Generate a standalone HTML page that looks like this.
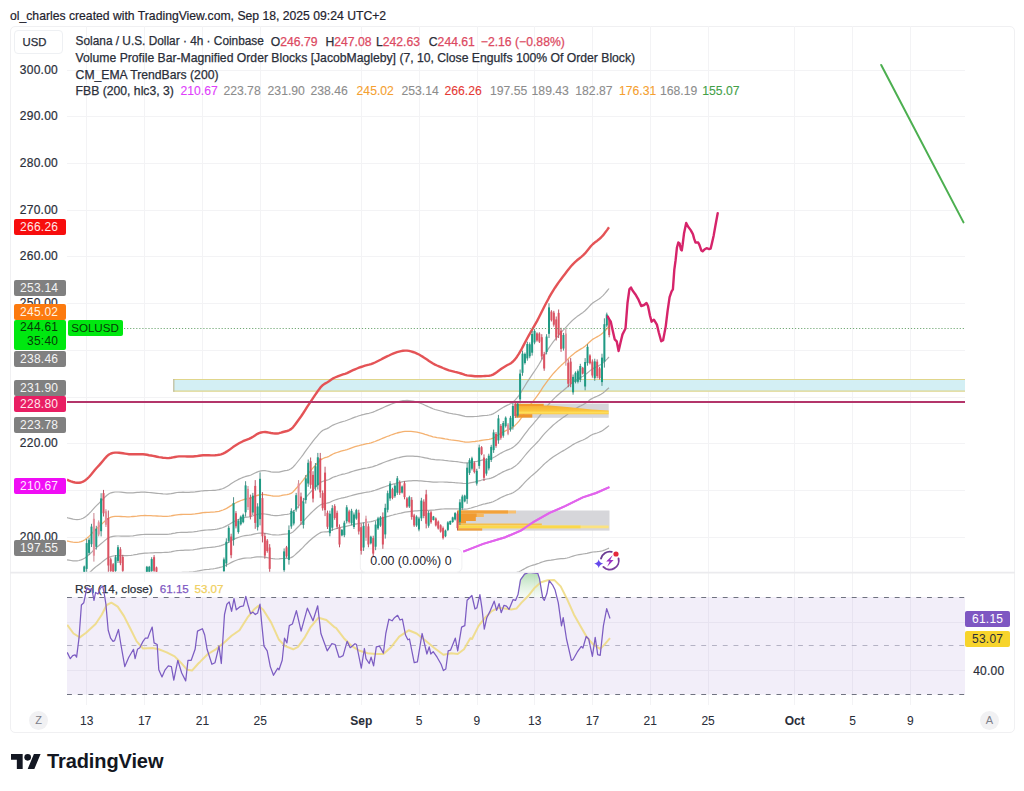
<!DOCTYPE html>
<html><head><meta charset="utf-8">
<style>
html,body{margin:0;padding:0;background:#fff;width:1024px;height:791px;overflow:hidden;}
body{position:relative;font-family:"Liberation Sans",sans-serif;color:#131722;}
.t{position:absolute;white-space:nowrap;line-height:1;z-index:3;}
.frame{position:absolute;z-index:1;left:9.5px;top:25.5px;width:1005px;height:707px;border:1px solid #f0f0f2;border-radius:5px;box-sizing:border-box;}
.lg{position:absolute;z-index:3;white-space:nowrap;font-size:12.2px;line-height:1;color:#2a2e39;-webkit-text-stroke:0.25px currentColor;}
.pl{position:absolute;z-index:3;left:14px;width:52px;height:16px;border-radius:2px;font-size:12px;letter-spacing:0.25px;line-height:16px;text-align:right;box-sizing:border-box;padding-right:7.75px;color:#fff;}
.ax{position:absolute;z-index:3;font-size:12px;line-height:1;color:#2a2e39;white-space:nowrap;-webkit-text-stroke:0.2px currentColor;}
.pr{left:8px;width:50px;text-align:right;letter-spacing:0.25px;margin-right:-0.25px}
svg{position:absolute;left:0;top:0;}
</style></head><body>
<div class="t" style="left:10px;top:9.5px;font-size:12.2px;color:#1e222d;-webkit-text-stroke:0.2px currentColor;">ol_charles created with TradingView.com, Sep 18, 2025 09:24 UTC+2</div>
<div class="frame"></div>
<svg style="z-index:2" width="1024" height="791" viewBox="0 0 1024 791">
<line x1="67" y1="537.5" x2="965" y2="537.5" stroke="#f3f3f5"/>
<line x1="67" y1="490.5" x2="965" y2="490.5" stroke="#f3f3f5"/>
<line x1="67" y1="443.5" x2="965" y2="443.5" stroke="#f3f3f5"/>
<line x1="67" y1="397.5" x2="965" y2="397.5" stroke="#f3f3f5"/>
<line x1="67" y1="350.5" x2="965" y2="350.5" stroke="#f3f3f5"/>
<line x1="67" y1="303.5" x2="965" y2="303.5" stroke="#f3f3f5"/>
<line x1="67" y1="256.5" x2="965" y2="256.5" stroke="#f3f3f5"/>
<line x1="67" y1="210.5" x2="965" y2="210.5" stroke="#f3f3f5"/>
<line x1="67" y1="163.5" x2="965" y2="163.5" stroke="#f3f3f5"/>
<line x1="67" y1="116.5" x2="965" y2="116.5" stroke="#f3f3f5"/>
<line x1="67" y1="70.5" x2="965" y2="70.5" stroke="#f3f3f5"/>
<line x1="86.5" y1="26" x2="86.5" y2="582" stroke="#f3f3f5"/>
<line x1="86.5" y1="597" x2="86.5" y2="705" stroke="#f3f3f5"/>
<line x1="144.5" y1="26" x2="144.5" y2="582" stroke="#f3f3f5"/>
<line x1="144.5" y1="597" x2="144.5" y2="705" stroke="#f3f3f5"/>
<line x1="202.5" y1="26" x2="202.5" y2="582" stroke="#f3f3f5"/>
<line x1="202.5" y1="597" x2="202.5" y2="705" stroke="#f3f3f5"/>
<line x1="260.5" y1="26" x2="260.5" y2="705" stroke="#f3f3f5"/>
<line x1="361.5" y1="26" x2="361.5" y2="705" stroke="#f3f3f5"/>
<line x1="419.5" y1="26" x2="419.5" y2="705" stroke="#f3f3f5"/>
<line x1="477.5" y1="26" x2="477.5" y2="705" stroke="#f3f3f5"/>
<line x1="534.5" y1="26" x2="534.5" y2="705" stroke="#f3f3f5"/>
<line x1="592.5" y1="26" x2="592.5" y2="705" stroke="#f3f3f5"/>
<line x1="650.5" y1="26" x2="650.5" y2="705" stroke="#f3f3f5"/>
<line x1="708.5" y1="26" x2="708.5" y2="705" stroke="#f3f3f5"/>
<line x1="794.5" y1="26" x2="794.5" y2="705" stroke="#f3f3f5"/>
<line x1="852.5" y1="26" x2="852.5" y2="705" stroke="#f3f3f5"/>
<line x1="910.5" y1="26" x2="910.5" y2="705" stroke="#f3f3f5"/>
<line x1="67" y1="670.5" x2="965" y2="670.5" stroke="#f3f3f5"/>
<line x1="67" y1="622.5" x2="965" y2="622.5" stroke="#f3f3f5"/>
<line x1="10" y1="572.6" x2="1015" y2="572.6" stroke="#ebebee" stroke-width="1.6"/>
<rect x="173.8" y="379.5" width="791.2" height="11.8" fill="#d3eff4"/>
<line x1="173.3" y1="379.5" x2="965" y2="379.5" stroke="#e0d68c" stroke-width="1.2"/>
<line x1="173.3" y1="391.2" x2="965" y2="391.2" stroke="#e0d68c" stroke-width="1.2"/>
<line x1="173.8" y1="379" x2="173.8" y2="391.8" stroke="#bdbb98" stroke-width="1.2"/>
<rect x="515.7" y="403.6" width="93" height="14.2" fill="#d6d6da"/>
<rect x="457.3" y="510.5" width="152.2" height="20.1" fill="#d6d6da"/>
<clipPath id="mainclip"><rect x="67" y="26" width="898" height="545.8"/></clipPath>
<g clip-path="url(#mainclip)" fill="none" stroke-linejoin="round">
<polyline points="67.0,677.8 69.0,677.4 71.0,677.0 73.0,676.6 75.0,676.1 77.0,675.5 79.0,674.8 81.0,674.0 83.0,673.0 85.0,671.8 87.0,670.5 89.0,669.1 91.0,667.8 93.0,666.4 95.0,665.2 97.0,664.3 99.0,663.5 101.0,662.7 103.0,661.9 105.0,661.2 107.0,660.5 109.0,659.9 111.0,659.5 113.0,659.2 115.0,659.0 117.0,658.8 119.0,658.6 121.0,658.3 123.0,658.0 125.0,657.6 127.0,657.2 129.0,656.7 131.0,656.2 133.0,655.6 135.0,655.0 137.0,654.4 139.0,653.7 141.0,653.1 143.0,652.5 145.0,651.9 147.0,651.4 149.0,650.8 151.0,650.2 153.0,649.7 155.0,649.1 157.0,648.6 159.0,648.2 161.0,647.7 163.0,647.3 165.0,646.9 167.0,646.5 169.0,646.2 171.0,645.8 173.0,645.4 175.0,645.0 177.0,644.7 179.0,644.5 181.0,644.3 183.0,644.1 185.0,644.0 187.0,643.8 189.0,643.6 191.0,643.4 193.0,643.1 195.0,642.7 197.0,642.3 199.0,641.8 201.0,641.3 203.0,640.8 205.0,640.4 207.0,640.0 209.0,639.6 211.0,639.3 213.0,638.9 215.0,638.4 217.0,638.0 219.0,637.4 221.0,636.9 223.0,636.2 225.0,635.5 227.0,634.7 229.0,633.9 231.0,633.1 233.0,632.4 235.0,631.8 237.0,631.3 239.0,631.0 241.0,630.8 243.0,630.8 245.0,630.9 247.0,631.1 249.0,631.5 251.0,631.9 253.0,632.2 255.0,632.5 257.0,632.8 259.0,633.2 261.0,633.6 263.0,634.1 265.0,634.6 267.0,635.1 269.0,635.5 271.0,635.9 273.0,636.2 275.0,636.4 277.0,636.5 279.0,636.6 281.0,636.6 283.0,636.7 285.0,636.8 287.0,637.1 289.0,637.2 291.0,637.0 293.0,636.4 295.0,635.3 297.0,634.0 299.0,632.6 301.0,631.3 303.0,629.9 305.0,628.5 307.0,627.2 309.0,626.0 311.0,625.0 313.0,624.1 315.0,623.3 317.0,622.8 319.0,622.5 321.0,622.4 323.0,622.9 325.0,623.5 327.0,624.0 329.0,624.1 331.0,623.6 333.0,623.0 335.0,622.5 337.0,622.1 339.0,621.7 341.0,621.4 343.0,621.1 345.0,620.9 347.0,620.7 349.0,620.5 351.0,620.2 353.0,620.0 355.0,619.8 357.0,619.7 359.0,619.6 361.0,619.5 363.0,619.4 365.0,619.4 367.0,619.3 369.0,619.1 371.0,618.9 373.0,618.6 375.0,618.1 377.0,617.7 379.0,617.2 381.0,616.7 383.0,616.3 385.0,615.9 387.0,615.6 389.0,615.3 391.0,614.9 393.0,614.6 395.0,614.3 397.0,614.0 399.0,613.6 401.0,613.2 403.0,612.7 405.0,612.1 407.0,611.5 409.0,610.9 411.0,610.2 413.0,609.5 415.0,608.7 417.0,607.9 419.0,607.0 421.0,606.2 423.0,605.3 425.0,604.4 427.0,603.5 429.0,602.6 431.0,601.6 433.0,600.7 435.0,599.7 437.0,598.7 439.0,597.7 441.0,596.8 443.0,596.1 445.0,595.4 447.0,594.8 449.0,594.3 451.0,594.0 453.0,593.7 455.0,593.4 457.0,593.2 459.0,593.1 461.0,592.9 463.0,592.6 465.0,592.1 467.0,591.5 469.0,590.6 471.0,589.6 473.0,588.6 475.0,587.5 477.0,586.5 479.0,585.4 481.0,584.4 483.0,583.4 485.0,582.7 487.0,582.1 489.0,581.5 491.0,580.9 493.0,580.2 495.0,579.4 497.0,578.5 499.0,577.7 501.0,576.9 503.0,576.1 505.0,575.5 507.0,575.0 509.0,574.6 511.0,574.2 513.0,573.7 515.0,573.1 517.0,572.4 519.0,571.7 521.0,570.8 523.0,569.6 525.0,568.5 527.0,567.4 529.0,566.5 531.0,565.8 533.0,565.1 535.0,564.6 537.0,563.9 539.0,563.2 541.0,562.4 543.0,561.7 545.0,561.1 547.0,560.7 549.0,560.4 551.0,560.2 553.0,559.8 555.0,559.5 557.0,559.2 559.0,558.9 561.0,558.7 563.0,558.6 565.0,558.4 567.0,558.0 569.0,557.5 571.0,556.8 573.0,556.1 575.0,555.5 577.0,555.0 579.0,554.6 581.0,554.3 583.0,554.0 585.0,553.7 587.0,553.3 589.0,552.8 591.0,552.3 593.0,552.0 595.0,551.8 597.0,551.7 599.0,551.5 601.0,551.2 603.0,550.6 605.0,549.9 607.0,549.0 609.0,548.1" stroke="#a4a4a4" stroke-width="1.2" opacity="0.9"/>
<polyline points="67.0,602.2 69.0,602.3 71.0,602.3 73.0,602.3 75.0,602.2 77.0,601.9 79.0,601.5 81.0,600.8 83.0,600.0 85.0,598.8 87.0,597.4 89.0,595.8 91.0,594.0 93.0,592.3 95.0,590.6 97.0,589.1 99.0,587.8 101.0,586.5 103.0,585.1 105.0,583.7 107.0,582.5 109.0,581.5 111.0,580.8 113.0,580.4 115.0,580.2 117.0,580.0 119.0,580.0 121.0,579.9 123.0,579.8 125.0,579.7 127.0,579.6 129.0,579.4 131.0,579.1 133.0,578.8 135.0,578.4 137.0,577.9 139.0,577.5 141.0,577.1 143.0,576.8 145.0,576.5 147.0,576.3 149.0,576.1 151.0,575.9 153.0,575.7 155.0,575.5 157.0,575.3 159.0,575.2 161.0,575.0 163.0,574.9 165.0,574.7 167.0,574.6 169.0,574.3 171.0,574.0 173.0,573.6 175.0,573.2 177.0,572.9 179.0,572.7 181.0,572.5 183.0,572.4 185.0,572.4 187.0,572.3 189.0,572.2 191.0,572.0 193.0,571.8 195.0,571.5 197.0,571.2 199.0,570.8 201.0,570.4 203.0,570.0 205.0,569.7 207.0,569.5 209.0,569.3 211.0,569.0 213.0,568.8 215.0,568.5 217.0,568.1 219.0,567.7 221.0,567.2 223.0,566.5 225.0,565.7 227.0,564.7 229.0,563.7 231.0,562.6 233.0,561.6 235.0,560.8 237.0,560.0 239.0,559.3 241.0,558.8 243.0,558.4 245.0,558.1 247.0,558.0 249.0,558.0 251.0,557.8 253.0,557.5 255.0,557.2 257.0,556.9 259.0,556.8 261.0,556.8 263.0,557.0 265.0,557.2 267.0,557.6 269.0,558.0 271.0,558.4 273.0,558.7 275.0,558.9 277.0,559.0 279.0,558.9 281.0,558.7 283.0,558.5 285.0,558.4 287.0,558.4 289.0,558.2 291.0,557.6 293.0,556.6 295.0,554.9 297.0,553.0 299.0,551.2 301.0,549.3 303.0,547.3 305.0,545.1 307.0,543.2 309.0,541.3 311.0,539.5 313.0,537.8 315.0,536.2 317.0,534.8 319.0,533.5 321.0,532.4 323.0,532.0 325.0,531.9 327.0,531.8 329.0,531.3 331.0,530.5 333.0,529.6 335.0,529.0 337.0,528.4 339.0,527.8 341.0,527.3 343.0,526.9 345.0,526.6 347.0,526.1 349.0,525.6 351.0,525.1 353.0,524.6 355.0,524.2 357.0,523.8 359.0,523.4 361.0,523.1 363.0,522.8 365.0,522.5 367.0,522.2 369.0,522.0 371.0,521.6 373.0,521.1 375.0,520.5 377.0,519.9 379.0,519.2 381.0,518.5 383.0,517.8 385.0,517.2 387.0,516.6 389.0,516.1 391.0,515.5 393.0,515.0 395.0,514.4 397.0,514.0 399.0,513.5 401.0,513.1 403.0,512.6 405.0,512.2 407.0,511.9 409.0,511.6 411.0,511.3 413.0,511.1 415.0,510.9 417.0,510.8 419.0,510.6 421.0,510.5 423.0,510.4 425.0,510.4 427.0,510.3 429.0,510.3 431.0,510.2 433.0,510.1 435.0,509.9 437.0,509.6 439.0,509.3 441.0,509.1 443.0,509.0 445.0,508.9 447.0,508.8 449.0,508.8 451.0,508.8 453.0,508.8 455.0,508.8 457.0,508.9 459.0,509.0 461.0,509.1 463.0,509.2 465.0,509.2 467.0,509.0 469.0,508.5 471.0,508.0 473.0,507.4 475.0,506.8 477.0,506.2 479.0,505.5 481.0,504.9 483.0,504.2 485.0,503.8 487.0,503.3 489.0,502.9 491.0,502.4 493.0,501.7 495.0,500.7 497.0,499.7 499.0,498.6 501.0,497.5 503.0,496.6 505.0,495.7 507.0,494.9 509.0,494.3 511.0,493.6 513.0,492.7 515.0,491.5 517.0,490.1 519.0,488.5 521.0,486.5 523.0,484.4 525.0,482.2 527.0,480.1 529.0,478.2 531.0,476.4 533.0,474.7 535.0,473.0 537.0,471.2 539.0,469.3 541.0,467.3 543.0,465.3 545.0,463.4 547.0,461.7 549.0,460.1 551.0,458.6 553.0,457.1 555.0,455.7 557.0,454.4 559.0,453.2 561.0,452.0 563.0,450.9 565.0,449.8 567.0,448.5 569.0,447.2 571.0,445.9 573.0,444.6 575.0,443.5 577.0,442.5 579.0,441.6 581.0,440.8 583.0,440.0 585.0,439.0 587.0,437.9 589.0,436.6 591.0,435.3 593.0,434.3 595.0,433.6 597.0,433.0 599.0,432.3 601.0,431.4 603.0,430.2 605.0,428.8 607.0,427.2 609.0,425.6" stroke="#a4a4a4" stroke-width="1.2" opacity="0.9"/>
<polyline points="67.0,578.8 69.0,579.0 71.0,579.2 73.0,579.3 75.0,579.3 77.0,579.2 79.0,578.8 81.0,578.2 83.0,577.4 85.0,576.2 87.0,574.7 89.0,573.1 91.0,571.2 93.0,569.3 95.0,567.5 97.0,565.9 99.0,564.4 101.0,562.9 103.0,561.3 105.0,559.7 107.0,558.3 109.0,557.2 111.0,556.5 113.0,556.0 115.0,555.8 117.0,555.7 119.0,555.7 121.0,555.7 123.0,555.7 125.0,555.6 127.0,555.6 129.0,555.5 131.0,555.3 133.0,555.0 135.0,554.6 137.0,554.3 139.0,553.9 141.0,553.6 143.0,553.4 145.0,553.2 147.0,553.1 149.0,553.0 151.0,552.9 153.0,552.8 155.0,552.7 157.0,552.7 159.0,552.6 161.0,552.6 163.0,552.5 165.0,552.4 167.0,552.3 169.0,552.1 171.0,551.8 173.0,551.4 175.0,551.0 177.0,550.7 179.0,550.5 181.0,550.3 183.0,550.3 185.0,550.2 187.0,550.2 189.0,550.1 191.0,550.0 193.0,549.8 195.0,549.5 197.0,549.2 199.0,548.8 201.0,548.4 203.0,548.1 205.0,547.8 207.0,547.7 209.0,547.5 211.0,547.3 213.0,547.1 215.0,546.9 217.0,546.5 219.0,546.1 221.0,545.6 223.0,544.9 225.0,544.1 227.0,543.1 229.0,542.0 231.0,540.9 233.0,539.8 235.0,538.8 237.0,537.9 239.0,537.2 241.0,536.5 243.0,536.0 245.0,535.6 247.0,535.4 249.0,535.2 251.0,534.9 253.0,534.4 255.0,533.9 257.0,533.5 259.0,533.2 261.0,533.0 263.0,533.1 265.0,533.3 267.0,533.7 269.0,534.1 271.0,534.5 273.0,534.8 275.0,534.9 277.0,535.0 279.0,534.9 281.0,534.7 283.0,534.3 285.0,534.1 287.0,534.0 289.0,533.7 291.0,533.1 293.0,531.9 295.0,530.0 297.0,528.0 299.0,526.0 301.0,523.9 303.0,521.7 305.0,519.4 307.0,517.2 309.0,515.1 311.0,513.0 313.0,511.1 315.0,509.2 317.0,507.5 319.0,505.9 321.0,504.6 323.0,503.9 325.0,503.5 327.0,503.2 329.0,502.7 331.0,501.7 333.0,500.7 335.0,500.0 337.0,499.4 339.0,498.8 341.0,498.2 343.0,497.8 345.0,497.4 347.0,496.9 349.0,496.3 351.0,495.7 353.0,495.1 355.0,494.6 357.0,494.1 359.0,493.7 361.0,493.3 363.0,492.9 365.0,492.5 367.0,492.2 369.0,491.9 371.0,491.5 373.0,490.9 375.0,490.3 377.0,489.6 379.0,488.9 381.0,488.1 383.0,487.4 385.0,486.7 387.0,486.0 389.0,485.4 391.0,484.7 393.0,484.1 395.0,483.5 397.0,483.0 399.0,482.6 401.0,482.1 403.0,481.7 405.0,481.3 407.0,481.1 409.0,480.9 411.0,480.8 413.0,480.7 415.0,480.7 417.0,480.7 419.0,480.8 421.0,480.9 423.0,481.1 425.0,481.3 427.0,481.5 429.0,481.7 431.0,481.9 433.0,482.1 435.0,482.1 437.0,482.1 439.0,482.0 441.0,482.0 443.0,482.0 445.0,482.1 447.0,482.2 449.0,482.4 451.0,482.4 453.0,482.5 455.0,482.7 457.0,482.8 459.0,483.0 461.0,483.2 463.0,483.4 465.0,483.5 467.0,483.4 469.0,483.1 471.0,482.7 473.0,482.3 475.0,481.9 477.0,481.4 479.0,480.8 481.0,480.3 483.0,479.7 485.0,479.4 487.0,479.0 489.0,478.6 491.0,478.1 493.0,477.4 495.0,476.4 497.0,475.3 499.0,474.1 501.0,473.0 503.0,471.9 505.0,471.0 507.0,470.1 509.0,469.4 511.0,468.7 513.0,467.6 515.0,466.2 517.0,464.6 519.0,462.7 521.0,460.5 523.0,458.0 525.0,455.5 527.0,453.1 529.0,450.8 531.0,448.7 533.0,446.7 535.0,444.6 537.0,442.5 539.0,440.3 541.0,437.9 543.0,435.4 545.0,433.2 547.0,431.1 549.0,429.1 551.0,427.2 553.0,425.3 555.0,423.6 557.0,422.0 559.0,420.4 561.0,418.9 563.0,417.6 565.0,416.2 567.0,414.7 569.0,413.1 571.0,411.6 573.0,410.1 575.0,408.8 577.0,407.7 579.0,406.6 581.0,405.7 583.0,404.7 585.0,403.5 587.0,402.2 589.0,400.6 591.0,399.1 593.0,398.0 595.0,397.1 597.0,396.3 599.0,395.4 601.0,394.3 603.0,393.0 605.0,391.4 607.0,389.5 609.0,387.7" stroke="#a4a4a4" stroke-width="1.2" opacity="0.9"/>
<polyline points="67.0,559.9 69.0,560.2 71.0,560.5 73.0,560.8 75.0,560.9 77.0,560.8 79.0,560.5 81.0,559.9 83.0,559.1 85.0,557.9 87.0,556.4 89.0,554.7 91.0,552.8 93.0,550.8 95.0,548.9 97.0,547.1 99.0,545.5 101.0,543.8 103.0,542.1 105.0,540.4 107.0,538.8 109.0,537.6 111.0,536.8 113.0,536.3 115.0,536.1 117.0,536.0 119.0,536.0 121.0,536.1 123.0,536.1 125.0,536.2 127.0,536.2 129.0,536.1 131.0,536.0 133.0,535.8 135.0,535.5 137.0,535.2 139.0,534.9 141.0,534.7 143.0,534.5 145.0,534.4 147.0,534.3 149.0,534.3 151.0,534.3 153.0,534.3 155.0,534.3 157.0,534.3 159.0,534.4 161.0,534.4 163.0,534.4 165.0,534.4 167.0,534.3 169.0,534.1 171.0,533.8 173.0,533.4 175.0,533.1 177.0,532.7 179.0,532.5 181.0,532.4 183.0,532.3 185.0,532.3 187.0,532.3 189.0,532.2 191.0,532.1 193.0,532.0 195.0,531.7 197.0,531.4 199.0,531.0 201.0,530.7 203.0,530.4 205.0,530.2 207.0,530.0 209.0,529.9 211.0,529.8 213.0,529.6 215.0,529.4 217.0,529.1 219.0,528.7 221.0,528.2 223.0,527.5 225.0,526.6 227.0,525.6 229.0,524.4 231.0,523.2 233.0,522.1 235.0,521.0 237.0,520.1 239.0,519.2 241.0,518.5 243.0,517.9 245.0,517.4 247.0,517.1 249.0,516.8 251.0,516.4 253.0,515.8 255.0,515.1 257.0,514.5 259.0,514.1 261.0,513.8 263.0,513.8 265.0,514.0 267.0,514.3 269.0,514.7 271.0,515.1 273.0,515.4 275.0,515.6 277.0,515.6 279.0,515.5 281.0,515.2 283.0,514.8 285.0,514.5 287.0,514.4 289.0,514.0 291.0,513.2 293.0,511.9 295.0,509.9 297.0,507.8 299.0,505.6 301.0,503.4 303.0,501.1 305.0,498.5 307.0,496.1 309.0,493.9 311.0,491.7 313.0,489.5 315.0,487.5 317.0,485.5 319.0,483.7 321.0,482.1 323.0,481.2 325.0,480.6 327.0,480.2 329.0,479.5 331.0,478.4 333.0,477.3 335.0,476.6 337.0,476.0 339.0,475.3 341.0,474.7 343.0,474.2 345.0,473.8 347.0,473.2 349.0,472.6 351.0,471.9 353.0,471.2 355.0,470.6 357.0,470.1 359.0,469.6 361.0,469.2 363.0,468.7 365.0,468.3 367.0,468.0 369.0,467.6 371.0,467.2 373.0,466.6 375.0,465.9 377.0,465.2 379.0,464.4 381.0,463.6 383.0,462.8 385.0,462.0 387.0,461.3 389.0,460.6 391.0,459.9 393.0,459.2 395.0,458.6 397.0,458.0 399.0,457.6 401.0,457.1 403.0,456.7 405.0,456.4 407.0,456.2 409.0,456.1 411.0,456.1 413.0,456.1 415.0,456.3 417.0,456.4 419.0,456.7 421.0,457.0 423.0,457.4 425.0,457.8 427.0,458.2 429.0,458.7 431.0,459.1 433.0,459.4 435.0,459.7 437.0,459.8 439.0,459.9 441.0,460.0 443.0,460.2 445.0,460.5 447.0,460.7 449.0,461.0 451.0,461.1 453.0,461.3 455.0,461.5 457.0,461.7 459.0,462.0 461.0,462.3 463.0,462.6 465.0,462.8 467.0,462.8 469.0,462.6 471.0,462.3 473.0,462.0 475.0,461.7 477.0,461.3 479.0,460.8 481.0,460.4 483.0,459.9 485.0,459.6 487.0,459.3 489.0,459.0 491.0,458.5 493.0,457.8 495.0,456.8 497.0,455.6 499.0,454.3 501.0,453.1 503.0,452.0 505.0,451.0 507.0,450.1 509.0,449.4 511.0,448.5 513.0,447.4 515.0,445.8 517.0,444.0 519.0,441.9 521.0,439.4 523.0,436.7 525.0,433.9 527.0,431.3 529.0,428.7 531.0,426.4 533.0,424.1 535.0,421.7 537.0,419.4 539.0,416.8 541.0,414.1 543.0,411.3 545.0,408.8 547.0,406.4 549.0,404.0 551.0,401.8 553.0,399.6 555.0,397.6 557.0,395.8 559.0,394.0 561.0,392.3 563.0,390.7 565.0,389.0 567.0,387.3 569.0,385.5 571.0,383.8 573.0,382.3 575.0,380.8 577.0,379.5 579.0,378.4 581.0,377.3 583.0,376.2 585.0,374.9 587.0,373.3 589.0,371.6 591.0,369.9 593.0,368.6 595.0,367.5 597.0,366.6 599.0,365.6 601.0,364.4 603.0,362.9 605.0,361.1 607.0,359.1 609.0,357.0" stroke="#a4a4a4" stroke-width="1.2" opacity="0.9"/>
<polyline points="67.0,541.0 69.0,541.4 71.0,541.8 73.0,542.2 75.0,542.4 77.0,542.4 79.0,542.2 81.0,541.7 83.0,540.8 85.0,539.7 87.0,538.1 89.0,536.4 91.0,534.4 93.0,532.3 95.0,530.2 97.0,528.3 99.0,526.6 101.0,524.8 103.0,522.9 105.0,521.0 107.0,519.3 109.0,518.0 111.0,517.2 113.0,516.6 115.0,516.4 117.0,516.3 119.0,516.4 121.0,516.5 123.0,516.6 125.0,516.7 127.0,516.8 129.0,516.8 131.0,516.7 133.0,516.5 135.0,516.3 137.0,516.1 139.0,515.8 141.0,515.7 143.0,515.6 145.0,515.5 147.0,515.6 149.0,515.6 151.0,515.7 153.0,515.8 155.0,515.9 157.0,516.0 159.0,516.1 161.0,516.2 163.0,516.3 165.0,516.3 167.0,516.3 169.0,516.2 171.0,515.9 173.0,515.5 175.0,515.1 177.0,514.8 179.0,514.6 181.0,514.5 183.0,514.4 185.0,514.4 187.0,514.4 189.0,514.4 191.0,514.3 193.0,514.1 195.0,513.9 197.0,513.6 199.0,513.3 201.0,513.0 203.0,512.7 205.0,512.5 207.0,512.4 209.0,512.3 211.0,512.2 213.0,512.1 215.0,511.9 217.0,511.6 219.0,511.3 221.0,510.7 223.0,510.0 225.0,509.2 227.0,508.1 229.0,506.9 231.0,505.6 233.0,504.4 235.0,503.3 237.0,502.2 239.0,501.3 241.0,500.5 243.0,499.8 245.0,499.2 247.0,498.8 249.0,498.4 251.0,497.9 253.0,497.1 255.0,496.3 257.0,495.5 259.0,495.0 261.0,494.6 263.0,494.5 265.0,494.6 267.0,495.0 269.0,495.3 271.0,495.7 273.0,496.0 275.0,496.2 277.0,496.2 279.0,496.1 281.0,495.7 283.0,495.2 285.0,494.9 287.0,494.7 289.0,494.2 291.0,493.4 293.0,491.9 295.0,489.8 297.0,487.5 299.0,485.2 301.0,482.9 303.0,480.4 305.0,477.7 307.0,475.1 309.0,472.7 311.0,470.3 313.0,467.9 315.0,465.7 317.0,463.5 319.0,461.4 321.0,459.6 323.0,458.5 325.0,457.7 327.0,457.1 329.0,456.3 331.0,455.1 333.0,454.0 335.0,453.2 337.0,452.5 339.0,451.8 341.0,451.2 343.0,450.7 345.0,450.2 347.0,449.6 349.0,448.9 351.0,448.1 353.0,447.4 355.0,446.7 357.0,446.1 359.0,445.6 361.0,445.0 363.0,444.6 365.0,444.1 367.0,443.7 369.0,443.3 371.0,442.8 373.0,442.2 375.0,441.5 377.0,440.7 379.0,439.9 381.0,439.0 383.0,438.1 385.0,437.3 387.0,436.5 389.0,435.8 391.0,435.0 393.0,434.3 395.0,433.6 397.0,433.0 399.0,432.5 401.0,432.1 403.0,431.7 405.0,431.4 407.0,431.3 409.0,431.3 411.0,431.4 413.0,431.6 415.0,431.8 417.0,432.2 419.0,432.6 421.0,433.1 423.0,433.6 425.0,434.3 427.0,434.9 429.0,435.6 431.0,436.2 433.0,436.8 435.0,437.2 437.0,437.6 439.0,437.8 441.0,438.1 443.0,438.5 445.0,438.9 447.0,439.2 449.0,439.6 451.0,439.9 453.0,440.1 455.0,440.3 457.0,440.6 459.0,440.9 461.0,441.3 463.0,441.7 465.0,442.0 467.0,442.2 469.0,442.1 471.0,441.9 473.0,441.7 475.0,441.5 477.0,441.2 479.0,440.9 481.0,440.5 483.0,440.2 485.0,439.9 487.0,439.6 489.0,439.3 491.0,438.9 493.0,438.1 495.0,437.1 497.0,435.8 499.0,434.5 501.0,433.3 503.0,432.1 505.0,431.1 507.0,430.1 509.0,429.3 511.0,428.4 513.0,427.1 515.0,425.4 517.0,423.4 519.0,421.1 521.0,418.3 523.0,415.4 525.0,412.4 527.0,409.4 529.0,406.6 531.0,404.0 533.0,401.4 535.0,398.8 537.0,396.2 539.0,393.3 541.0,390.3 543.0,387.2 545.0,384.3 547.0,381.6 549.0,378.9 551.0,376.4 553.0,373.9 555.0,371.7 557.0,369.6 559.0,367.5 561.0,365.6 563.0,363.8 565.0,361.9 567.0,359.9 569.0,358.0 571.0,356.1 573.0,354.4 575.0,352.8 577.0,351.4 579.0,350.1 581.0,348.9 583.0,347.7 585.0,346.2 587.0,344.5 589.0,342.5 591.0,340.7 593.0,339.1 595.0,338.0 597.0,336.9 599.0,335.8 601.0,334.5 603.0,332.8 605.0,330.8 607.0,328.7 609.0,326.4" stroke="#f3a860" stroke-width="1.3" opacity="0.9"/>
<polyline points="67.0,517.6 69.0,518.2 71.0,518.7 73.0,519.2 75.0,519.5 77.0,519.6 79.0,519.5 81.0,519.0 83.0,518.2 85.0,517.1 87.0,515.5 89.0,513.7 91.0,511.6 93.0,509.3 95.0,507.1 97.0,505.1 99.0,503.2 101.0,501.2 103.0,499.1 105.0,497.0 107.0,495.2 109.0,493.8 111.0,492.8 113.0,492.3 115.0,492.0 117.0,492.0 119.0,492.0 121.0,492.2 123.0,492.4 125.0,492.6 127.0,492.8 129.0,492.9 131.0,492.9 133.0,492.8 135.0,492.6 137.0,492.4 139.0,492.3 141.0,492.2 143.0,492.2 145.0,492.2 147.0,492.3 149.0,492.5 151.0,492.7 153.0,492.9 155.0,493.1 157.0,493.3 159.0,493.5 161.0,493.7 163.0,493.9 165.0,494.0 167.0,494.1 169.0,493.9 171.0,493.7 173.0,493.3 175.0,492.9 177.0,492.5 179.0,492.4 181.0,492.3 183.0,492.2 185.0,492.3 187.0,492.3 189.0,492.3 191.0,492.2 193.0,492.1 195.0,491.9 197.0,491.6 199.0,491.3 201.0,491.0 203.0,490.8 205.0,490.6 207.0,490.6 209.0,490.5 211.0,490.5 213.0,490.4 215.0,490.3 217.0,490.0 219.0,489.7 221.0,489.2 223.0,488.5 225.0,487.6 227.0,486.4 229.0,485.2 231.0,483.8 233.0,482.5 235.0,481.3 237.0,480.2 239.0,479.1 241.0,478.2 243.0,477.4 245.0,476.7 247.0,476.2 249.0,475.7 251.0,475.0 253.0,474.0 255.0,473.0 257.0,472.1 259.0,471.3 261.0,470.9 263.0,470.7 265.0,470.7 267.0,471.0 269.0,471.4 271.0,471.8 273.0,472.1 275.0,472.2 277.0,472.2 279.0,472.1 281.0,471.6 283.0,471.1 285.0,470.7 287.0,470.3 289.0,469.8 291.0,468.8 293.0,467.2 295.0,465.0 297.0,462.5 299.0,460.0 301.0,457.5 303.0,454.9 305.0,451.9 307.0,449.1 309.0,446.5 311.0,443.8 313.0,441.2 315.0,438.7 317.0,436.3 319.0,433.9 321.0,431.8 323.0,430.3 325.0,429.4 327.0,428.6 329.0,427.6 331.0,426.3 333.0,425.1 335.0,424.3 337.0,423.5 339.0,422.8 341.0,422.1 343.0,421.5 345.0,421.0 347.0,420.3 349.0,419.5 351.0,418.7 353.0,417.9 355.0,417.1 357.0,416.5 359.0,415.8 361.0,415.2 363.0,414.7 365.0,414.1 367.0,413.7 369.0,413.3 371.0,412.7 373.0,412.1 375.0,411.3 377.0,410.4 379.0,409.5 381.0,408.6 383.0,407.7 385.0,406.8 387.0,405.9 389.0,405.1 391.0,404.3 393.0,403.5 395.0,402.7 397.0,402.1 399.0,401.6 401.0,401.1 403.0,400.7 405.0,400.5 407.0,400.4 409.0,400.5 411.0,400.8 413.0,401.1 415.0,401.6 417.0,402.1 419.0,402.8 421.0,403.5 423.0,404.3 425.0,405.2 427.0,406.1 429.0,407.0 431.0,407.9 433.0,408.8 435.0,409.5 437.0,410.0 439.0,410.5 441.0,411.0 443.0,411.5 445.0,412.1 447.0,412.6 449.0,413.1 451.0,413.5 453.0,413.9 455.0,414.2 457.0,414.5 459.0,414.9 461.0,415.4 463.0,415.9 465.0,416.4 467.0,416.6 469.0,416.7 471.0,416.7 473.0,416.6 475.0,416.5 477.0,416.4 479.0,416.2 481.0,415.9 483.0,415.7 485.0,415.5 487.0,415.3 489.0,415.0 491.0,414.6 493.0,413.9 495.0,412.8 497.0,411.5 499.0,410.1 501.0,408.8 503.0,407.5 505.0,406.4 507.0,405.4 509.0,404.5 511.0,403.5 513.0,402.1 515.0,400.2 517.0,397.9 519.0,395.3 521.0,392.3 523.0,389.0 525.0,385.7 527.0,382.4 529.0,379.3 531.0,376.4 533.0,373.4 535.0,370.5 537.0,367.5 539.0,364.3 541.0,360.9 543.0,357.4 545.0,354.1 547.0,351.0 549.0,347.9 551.0,345.0 553.0,342.2 555.0,339.6 557.0,337.2 559.0,334.8 561.0,332.5 563.0,330.4 565.0,328.3 567.0,326.1 569.0,323.9 571.0,321.8 573.0,319.9 575.0,318.2 577.0,316.6 579.0,315.2 581.0,313.8 583.0,312.4 585.0,310.7 587.0,308.8 589.0,306.6 591.0,304.5 593.0,302.8 595.0,301.4 597.0,300.2 599.0,298.9 601.0,297.4 603.0,295.6 605.0,293.4 607.0,291.0 609.0,288.5" stroke="#a4a4a4" stroke-width="1.2" opacity="0.9"/>
<polyline points="463.3,551.6 483.2,543.9 505.3,537.2 520.8,530.6 534.1,521.7 549.6,512.9 565.1,506.2 582.8,497.4 596.1,493.0 609.4,487.2" stroke="#e164ec" stroke-width="2.0"/>
<polyline points="67.0,479.7 69.0,480.6 71.0,481.4 73.0,482.0 75.0,482.5 77.0,482.8 79.0,482.8 81.0,482.5 83.0,481.7 85.0,480.5 87.0,478.9 89.0,477.0 91.0,474.7 93.0,472.3 95.0,469.8 97.0,467.5 99.0,465.4 101.0,463.1 103.0,460.7 105.0,458.3 107.0,456.2 109.0,454.5 111.0,453.5 113.0,452.9 115.0,452.6 117.0,452.6 119.0,452.7 121.0,453.0 123.0,453.3 125.0,453.6 127.0,453.9 129.0,454.2 131.0,454.3 133.0,454.3 135.0,454.3 137.0,454.2 139.0,454.2 141.0,454.2 143.0,454.3 145.0,454.5 147.0,454.8 149.0,455.2 151.0,455.5 153.0,455.9 155.0,456.3 157.0,456.7 159.0,457.1 161.0,457.4 163.0,457.7 165.0,457.9 167.0,458.1 169.0,458.0 171.0,457.8 173.0,457.4 175.0,457.0 177.0,456.6 179.0,456.4 181.0,456.4 183.0,456.4 185.0,456.4 187.0,456.5 189.0,456.5 191.0,456.5 193.0,456.5 195.0,456.3 197.0,456.1 199.0,455.8 201.0,455.5 203.0,455.3 205.0,455.3 207.0,455.3 209.0,455.3 211.0,455.4 213.0,455.4 215.0,455.3 217.0,455.1 219.0,454.8 221.0,454.3 223.0,453.6 225.0,452.6 227.0,451.4 229.0,450.1 231.0,448.6 233.0,447.1 235.0,445.8 237.0,444.5 239.0,443.3 241.0,442.2 243.0,441.2 245.0,440.3 247.0,439.6 249.0,438.9 251.0,437.9 253.0,436.7 255.0,435.4 257.0,434.1 259.0,433.1 261.0,432.5 263.0,432.1 265.0,432.0 267.0,432.3 269.0,432.6 271.0,433.0 273.0,433.3 275.0,433.5 277.0,433.5 279.0,433.2 281.0,432.7 283.0,432.0 285.0,431.5 287.0,431.0 289.0,430.3 291.0,429.1 293.0,427.3 295.0,424.8 297.0,422.0 299.0,419.3 301.0,416.5 303.0,413.5 305.0,410.3 307.0,407.1 309.0,404.1 311.0,401.1 313.0,398.1 315.0,395.1 317.0,392.3 319.0,389.4 321.0,386.8 323.0,384.9 325.0,383.6 327.0,382.5 329.0,381.3 331.0,379.8 333.0,378.4 335.0,377.5 337.0,376.7 339.0,375.8 341.0,375.1 343.0,374.4 345.0,373.8 347.0,373.1 349.0,372.1 351.0,371.1 353.0,370.2 355.0,369.3 357.0,368.5 359.0,367.7 361.0,367.0 363.0,366.3 365.0,365.7 367.0,365.2 369.0,364.7 371.0,364.1 373.0,363.3 375.0,362.5 377.0,361.5 379.0,360.5 381.0,359.5 383.0,358.4 385.0,357.4 387.0,356.4 389.0,355.5 391.0,354.5 393.0,353.6 395.0,352.8 397.0,352.1 399.0,351.6 401.0,351.1 403.0,350.7 405.0,350.6 407.0,350.6 409.0,350.9 411.0,351.4 413.0,352.0 415.0,352.7 417.0,353.6 419.0,354.5 421.0,355.7 423.0,356.9 425.0,358.2 427.0,359.5 429.0,360.9 431.0,362.2 433.0,363.5 435.0,364.6 437.0,365.5 439.0,366.3 441.0,367.1 443.0,368.0 445.0,368.8 447.0,369.6 449.0,370.4 451.0,370.9 453.0,371.4 455.0,371.9 457.0,372.3 459.0,372.9 461.0,373.5 463.0,374.2 465.0,374.9 467.0,375.4 469.0,375.6 471.0,375.8 473.0,376.0 475.0,376.2 477.0,376.3 479.0,376.2 481.0,376.2 483.0,376.1 485.0,376.0 487.0,375.9 489.0,375.7 491.0,375.4 493.0,374.6 495.0,373.4 497.0,372.0 499.0,370.5 501.0,369.1 503.0,367.7 505.0,366.5 507.0,365.3 509.0,364.3 511.0,363.2 513.0,361.5 515.0,359.4 517.0,356.7 519.0,353.7 521.0,350.2 523.0,346.4 525.0,342.5 527.0,338.8 529.0,335.1 531.0,331.7 533.0,328.2 535.0,324.7 537.0,321.1 539.0,317.3 541.0,313.3 543.0,309.2 545.0,305.3 547.0,301.5 549.0,297.7 551.0,294.2 553.0,290.8 555.0,287.7 557.0,284.8 559.0,281.9 561.0,279.2 563.0,276.6 565.0,274.0 567.0,271.3 569.0,268.7 571.0,266.3 573.0,264.1 575.0,262.2 577.0,260.3 579.0,258.7 581.0,257.1 583.0,255.4 585.0,253.4 587.0,251.0 589.0,248.5 591.0,246.0 593.0,244.0 595.0,242.3 597.0,240.9 599.0,239.3 601.0,237.5 603.0,235.4 605.0,232.8 607.0,230.1 609.0,227.2" stroke="#e45356" stroke-width="2.4"/>
</g>
<defs><linearGradient id="ubg" x1="0" y1="0" x2="0" y2="1"><stop offset="0" stop-color="#f6ae34"/><stop offset="0.6" stop-color="#fbc63e"/><stop offset="0.8" stop-color="#fdde5a"/><stop offset="1" stop-color="#fbc848"/></linearGradient></defs><polygon points="515.7,405.6 550,405.6 570,407.2 592,409.5 608.7,410.5 608.7,414.2 515.7,414.2" fill="url(#ubg)"/><rect x="515.7" y="403.8" width="28" height="2.2" fill="#f39a2a"/><rect x="515.7" y="414.2" width="16.6" height="3.4" fill="#f0952a"/><rect x="457.3" y="510.5" width="58.7" height="3.0" fill="#f8c070"/><rect x="457.3" y="510.5" width="50.7" height="3.0" fill="#f3a23a"/><rect x="457.3" y="513.5" width="26.5" height="3.5" fill="#f6b860"/><rect x="457.3" y="513.5" width="19.3" height="3.5" fill="#f09a30"/><rect x="457.3" y="517" width="18.5" height="4.0" fill="#f09a30"/><rect x="457.3" y="521" width="8.7" height="2.5" fill="#f09a30"/><rect x="457.3" y="523.5" width="84.5" height="2.0" fill="#f6c04a"/><rect x="457.3" y="525.5" width="151.4" height="2.8" fill="#fbe280"/><rect x="457.3" y="525.5" width="123.2" height="2.8" fill="#fbd84a"/><rect x="457.3" y="528.3" width="24.9" height="2.3" fill="#f2a03a"/><polyline points="463.3,551.6 483.2,543.9 505.3,537.2 520.8,530.6 534.1,521.7 549.6,512.9 565.1,506.2 582.8,497.4 596.1,493.0 609.4,487.2" fill="none" stroke="#e164ec" stroke-width="2.0"/>
<rect x="360.3" y="548.8" width="101.6" height="23.4" rx="5" fill="#fff" stroke="#f0f0f2" stroke-width="1"/>
<text x="370.3" y="564.9" font-family="Liberation Sans" font-size="12.4" fill="#1e222d">0.00 (0.00%) 0</text>
<g clip-path="url(#mainclip)">
<rect x="83.76" y="565.6" width="1" height="7.4" fill="#4f9088"/>
<rect x="83.26" y="566.5" width="2.0" height="5.6" fill="#1f9a84"/>
<rect x="86.16" y="539.0" width="1" height="34.0" fill="#4f9088"/>
<rect x="85.66" y="543.1" width="2.0" height="25.8" fill="#1f9a84"/>
<rect x="88.57" y="537.7" width="1" height="17.3" fill="#4f9088"/>
<rect x="88.07" y="539.8" width="2.0" height="13.1" fill="#1f9a84"/>
<rect x="90.98" y="523.8" width="1" height="23.2" fill="#4f9088"/>
<rect x="90.48" y="526.6" width="2.0" height="17.6" fill="#1f9a84"/>
<rect x="93.39" y="513.0" width="1" height="48.6" fill="#c98590"/>
<rect x="92.89" y="518.8" width="2.0" height="36.9" fill="#e58f9b"/>
<rect x="95.80" y="525.8" width="1" height="23.8" fill="#4f9088"/>
<rect x="95.30" y="528.7" width="2.0" height="18.1" fill="#1f9a84"/>
<rect x="98.20" y="520.4" width="1" height="16.0" fill="#c98590"/>
<rect x="97.70" y="522.3" width="2.0" height="12.2" fill="#e58f9b"/>
<rect x="100.61" y="493.2" width="1" height="43.2" fill="#4f9088"/>
<rect x="100.11" y="498.4" width="2.0" height="32.8" fill="#1f9a84"/>
<rect x="103.02" y="489.9" width="1" height="26.6" fill="#bb5364"/>
<rect x="102.52" y="493.1" width="2.0" height="20.2" fill="#dc5262"/>
<rect x="105.43" y="509.2" width="1" height="17.8" fill="#c98590"/>
<rect x="104.93" y="511.3" width="2.0" height="13.5" fill="#e58f9b"/>
<rect x="107.84" y="510.5" width="1" height="62.5" fill="#bb5364"/>
<rect x="107.34" y="518.0" width="2.0" height="47.5" fill="#dc5262"/>
<rect x="110.24" y="557.6" width="1" height="15.4" fill="#bb5364"/>
<rect x="109.74" y="559.4" width="2.0" height="11.7" fill="#dc5262"/>
<rect x="112.65" y="563.0" width="1" height="10.0" fill="#bb5364"/>
<rect x="112.15" y="564.2" width="2.0" height="7.6" fill="#dc5262"/>
<rect x="115.06" y="555.0" width="1" height="18.0" fill="#4f9088"/>
<rect x="114.56" y="557.2" width="2.0" height="13.7" fill="#1f9a84"/>
<rect x="117.47" y="545.0" width="1" height="18.0" fill="#4f9088"/>
<rect x="116.97" y="547.2" width="2.0" height="13.7" fill="#1f9a84"/>
<rect x="119.88" y="547.1" width="1" height="18.1" fill="#bb5364"/>
<rect x="119.38" y="549.3" width="2.0" height="13.8" fill="#dc5262"/>
<rect x="122.28" y="554.8" width="1" height="18.2" fill="#bb5364"/>
<rect x="121.78" y="557.0" width="2.0" height="13.8" fill="#dc5262"/>
<rect x="146.36" y="565.9" width="1" height="7.1" fill="#4f9088"/>
<rect x="145.86" y="566.8" width="2.0" height="5.4" fill="#1f9a84"/>
<rect x="148.77" y="565.9" width="1" height="7.1" fill="#4f9088"/>
<rect x="148.27" y="566.8" width="2.0" height="5.4" fill="#1f9a84"/>
<rect x="151.18" y="557.2" width="1" height="15.8" fill="#4f9088"/>
<rect x="150.68" y="559.1" width="2.0" height="12.0" fill="#1f9a84"/>
<rect x="153.59" y="555.1" width="1" height="17.9" fill="#bb5364"/>
<rect x="153.09" y="557.2" width="2.0" height="13.6" fill="#dc5262"/>
<rect x="156.00" y="566.6" width="1" height="6.4" fill="#bb5364"/>
<rect x="155.50" y="567.4" width="2.0" height="4.9" fill="#dc5262"/>
<rect x="223.42" y="557.5" width="1" height="15.5" fill="#4f9088"/>
<rect x="222.92" y="559.4" width="2.0" height="11.8" fill="#1f9a84"/>
<rect x="225.83" y="538.3" width="1" height="28.5" fill="#4f9088"/>
<rect x="225.33" y="541.7" width="2.0" height="21.7" fill="#1f9a84"/>
<rect x="228.24" y="525.7" width="1" height="17.3" fill="#4f9088"/>
<rect x="227.74" y="527.8" width="2.0" height="13.1" fill="#1f9a84"/>
<rect x="230.64" y="533.7" width="1" height="24.5" fill="#bb5364"/>
<rect x="230.14" y="536.6" width="2.0" height="18.6" fill="#dc5262"/>
<rect x="233.05" y="497.2" width="1" height="48.4" fill="#4f9088"/>
<rect x="232.55" y="503.0" width="2.0" height="36.8" fill="#1f9a84"/>
<rect x="235.46" y="511.1" width="1" height="17.3" fill="#bb5364"/>
<rect x="234.96" y="513.2" width="2.0" height="13.1" fill="#dc5262"/>
<rect x="237.87" y="519.0" width="1" height="14.7" fill="#4f9088"/>
<rect x="237.37" y="520.8" width="2.0" height="11.2" fill="#1f9a84"/>
<rect x="240.28" y="515.5" width="1" height="10.0" fill="#4f9088"/>
<rect x="239.78" y="516.7" width="2.0" height="7.6" fill="#1f9a84"/>
<rect x="242.68" y="513.6" width="1" height="9.7" fill="#4f9088"/>
<rect x="242.18" y="514.8" width="2.0" height="7.4" fill="#1f9a84"/>
<rect x="245.09" y="481.2" width="1" height="35.4" fill="#4f9088"/>
<rect x="244.59" y="485.4" width="2.0" height="26.9" fill="#1f9a84"/>
<rect x="247.50" y="486.0" width="1" height="24.0" fill="#c98590"/>
<rect x="247.00" y="488.9" width="2.0" height="18.2" fill="#e58f9b"/>
<rect x="249.91" y="494.6" width="1" height="24.8" fill="#bb5364"/>
<rect x="249.41" y="497.6" width="2.0" height="18.8" fill="#dc5262"/>
<rect x="252.32" y="492.9" width="1" height="22.2" fill="#4f9088"/>
<rect x="251.82" y="495.6" width="2.0" height="16.9" fill="#1f9a84"/>
<rect x="254.72" y="480.1" width="1" height="48.7" fill="#bb5364"/>
<rect x="254.22" y="485.9" width="2.0" height="37.0" fill="#dc5262"/>
<rect x="257.13" y="503.2" width="1" height="27.3" fill="#4f9088"/>
<rect x="256.63" y="506.5" width="2.0" height="20.7" fill="#1f9a84"/>
<rect x="259.54" y="472.4" width="1" height="53.0" fill="#4f9088"/>
<rect x="259.04" y="478.8" width="2.0" height="40.3" fill="#1f9a84"/>
<rect x="261.95" y="492.1" width="1" height="50.3" fill="#bb5364"/>
<rect x="261.45" y="498.1" width="2.0" height="38.2" fill="#dc5262"/>
<rect x="264.36" y="533.0" width="1" height="25.7" fill="#bb5364"/>
<rect x="263.86" y="536.1" width="2.0" height="19.5" fill="#dc5262"/>
<rect x="266.76" y="539.0" width="1" height="13.7" fill="#bb5364"/>
<rect x="266.26" y="540.6" width="2.0" height="10.4" fill="#dc5262"/>
<rect x="269.17" y="544.1" width="1" height="28.2" fill="#bb5364"/>
<rect x="268.67" y="547.5" width="2.0" height="21.4" fill="#dc5262"/>
<rect x="283.62" y="548.4" width="1" height="24.6" fill="#4f9088"/>
<rect x="283.12" y="551.4" width="2.0" height="18.7" fill="#1f9a84"/>
<rect x="286.03" y="545.9" width="1" height="11.9" fill="#bb5364"/>
<rect x="285.53" y="547.3" width="2.0" height="9.0" fill="#dc5262"/>
<rect x="288.44" y="525.4" width="1" height="39.2" fill="#4f9088"/>
<rect x="287.94" y="530.1" width="2.0" height="29.8" fill="#1f9a84"/>
<rect x="290.84" y="508.3" width="1" height="20.5" fill="#4f9088"/>
<rect x="290.34" y="510.8" width="2.0" height="15.6" fill="#1f9a84"/>
<rect x="293.25" y="510.0" width="1" height="15.4" fill="#4f9088"/>
<rect x="292.75" y="511.8" width="2.0" height="11.7" fill="#1f9a84"/>
<rect x="295.66" y="492.9" width="1" height="18.8" fill="#4f9088"/>
<rect x="295.16" y="495.2" width="2.0" height="14.3" fill="#1f9a84"/>
<rect x="298.07" y="480.1" width="1" height="28.2" fill="#c98590"/>
<rect x="297.57" y="483.5" width="2.0" height="21.4" fill="#e58f9b"/>
<rect x="300.48" y="492.6" width="1" height="32.3" fill="#bb5364"/>
<rect x="299.98" y="496.5" width="2.0" height="24.5" fill="#dc5262"/>
<rect x="302.88" y="497.9" width="1" height="30.6" fill="#4f9088"/>
<rect x="302.38" y="501.6" width="2.0" height="23.3" fill="#1f9a84"/>
<rect x="305.29" y="475.0" width="1" height="28.6" fill="#4f9088"/>
<rect x="304.79" y="478.4" width="2.0" height="21.7" fill="#1f9a84"/>
<rect x="307.70" y="459.5" width="1" height="27.3" fill="#4f9088"/>
<rect x="307.20" y="462.8" width="2.0" height="20.7" fill="#1f9a84"/>
<rect x="310.11" y="457.5" width="1" height="31.1" fill="#bb5364"/>
<rect x="309.61" y="461.2" width="2.0" height="23.6" fill="#dc5262"/>
<rect x="312.52" y="471.2" width="1" height="31.2" fill="#bb5364"/>
<rect x="312.02" y="474.9" width="2.0" height="23.7" fill="#dc5262"/>
<rect x="314.92" y="463.0" width="1" height="27.5" fill="#4f9088"/>
<rect x="314.42" y="466.3" width="2.0" height="20.9" fill="#1f9a84"/>
<rect x="317.33" y="452.9" width="1" height="36.7" fill="#4f9088"/>
<rect x="316.83" y="457.3" width="2.0" height="27.9" fill="#1f9a84"/>
<rect x="319.74" y="452.9" width="1" height="44.9" fill="#bb5364"/>
<rect x="319.24" y="458.3" width="2.0" height="34.1" fill="#dc5262"/>
<rect x="322.15" y="490.5" width="1" height="20.1" fill="#bb5364"/>
<rect x="321.65" y="492.9" width="2.0" height="15.3" fill="#dc5262"/>
<rect x="324.56" y="466.7" width="1" height="49.4" fill="#bb5364"/>
<rect x="324.06" y="472.6" width="2.0" height="37.5" fill="#dc5262"/>
<rect x="326.96" y="510.6" width="1" height="18.4" fill="#bb5364"/>
<rect x="326.46" y="512.8" width="2.0" height="14.0" fill="#dc5262"/>
<rect x="329.37" y="510.6" width="1" height="25.7" fill="#4f9088"/>
<rect x="328.87" y="513.7" width="2.0" height="19.5" fill="#1f9a84"/>
<rect x="331.78" y="505.1" width="1" height="25.7" fill="#4f9088"/>
<rect x="331.28" y="508.2" width="2.0" height="19.5" fill="#1f9a84"/>
<rect x="334.19" y="504.2" width="1" height="15.6" fill="#bb5364"/>
<rect x="333.69" y="506.1" width="2.0" height="11.9" fill="#dc5262"/>
<rect x="336.60" y="510.6" width="1" height="18.4" fill="#bb5364"/>
<rect x="336.10" y="512.8" width="2.0" height="14.0" fill="#dc5262"/>
<rect x="339.00" y="524.4" width="1" height="22.9" fill="#bb5364"/>
<rect x="338.50" y="527.1" width="2.0" height="17.4" fill="#dc5262"/>
<rect x="341.41" y="529.0" width="1" height="7.3" fill="#4f9088"/>
<rect x="340.91" y="529.9" width="2.0" height="5.5" fill="#1f9a84"/>
<rect x="343.82" y="520.7" width="1" height="16.5" fill="#4f9088"/>
<rect x="343.32" y="522.7" width="2.0" height="12.5" fill="#1f9a84"/>
<rect x="346.23" y="505.1" width="1" height="18.4" fill="#4f9088"/>
<rect x="345.73" y="507.3" width="2.0" height="14.0" fill="#1f9a84"/>
<rect x="348.64" y="509.7" width="1" height="13.8" fill="#bb5364"/>
<rect x="348.14" y="511.4" width="2.0" height="10.5" fill="#dc5262"/>
<rect x="351.04" y="508.8" width="1" height="16.5" fill="#4f9088"/>
<rect x="350.54" y="510.8" width="2.0" height="12.5" fill="#1f9a84"/>
<rect x="353.45" y="512.5" width="1" height="16.5" fill="#4f9088"/>
<rect x="352.95" y="514.5" width="2.0" height="12.5" fill="#1f9a84"/>
<rect x="355.86" y="508.8" width="1" height="11.0" fill="#4f9088"/>
<rect x="355.36" y="510.1" width="2.0" height="8.4" fill="#1f9a84"/>
<rect x="358.27" y="509.7" width="1" height="24.8" fill="#bb5364"/>
<rect x="357.77" y="512.7" width="2.0" height="18.8" fill="#dc5262"/>
<rect x="360.68" y="523.5" width="1" height="31.1" fill="#bb5364"/>
<rect x="360.18" y="527.2" width="2.0" height="23.6" fill="#dc5262"/>
<rect x="363.08" y="522.5" width="1" height="28.4" fill="#4f9088"/>
<rect x="362.58" y="525.9" width="2.0" height="21.6" fill="#1f9a84"/>
<rect x="365.49" y="515.7" width="1" height="25.1" fill="#c98590"/>
<rect x="364.99" y="518.7" width="2.0" height="19.1" fill="#e58f9b"/>
<rect x="367.90" y="523.5" width="1" height="23.8" fill="#bb5364"/>
<rect x="367.40" y="526.4" width="2.0" height="18.1" fill="#dc5262"/>
<rect x="370.31" y="535.7" width="1" height="8.7" fill="#4f9088"/>
<rect x="369.81" y="536.7" width="2.0" height="6.6" fill="#1f9a84"/>
<rect x="372.72" y="535.7" width="1" height="20.4" fill="#bb5364"/>
<rect x="372.22" y="538.1" width="2.0" height="15.5" fill="#dc5262"/>
<rect x="375.12" y="521.1" width="1" height="29.1" fill="#4f9088"/>
<rect x="374.62" y="524.6" width="2.0" height="22.1" fill="#1f9a84"/>
<rect x="377.53" y="516.8" width="1" height="13.1" fill="#4f9088"/>
<rect x="377.03" y="518.4" width="2.0" height="10.0" fill="#1f9a84"/>
<rect x="379.94" y="516.0" width="1" height="10.9" fill="#4f9088"/>
<rect x="379.44" y="517.3" width="2.0" height="8.3" fill="#1f9a84"/>
<rect x="382.35" y="512.4" width="1" height="36.4" fill="#bb5364"/>
<rect x="381.85" y="516.8" width="2.0" height="27.7" fill="#dc5262"/>
<rect x="384.76" y="503.7" width="1" height="34.9" fill="#4f9088"/>
<rect x="384.26" y="507.9" width="2.0" height="26.5" fill="#1f9a84"/>
<rect x="387.16" y="490.6" width="1" height="21.8" fill="#4f9088"/>
<rect x="386.66" y="493.2" width="2.0" height="16.6" fill="#1f9a84"/>
<rect x="389.57" y="481.1" width="1" height="19.7" fill="#4f9088"/>
<rect x="389.07" y="483.5" width="2.0" height="15.0" fill="#1f9a84"/>
<rect x="391.98" y="487.7" width="1" height="11.6" fill="#bb5364"/>
<rect x="391.48" y="489.1" width="2.0" height="8.8" fill="#dc5262"/>
<rect x="394.39" y="484.0" width="1" height="13.8" fill="#4f9088"/>
<rect x="393.89" y="485.7" width="2.0" height="10.5" fill="#1f9a84"/>
<rect x="396.80" y="476.0" width="1" height="18.9" fill="#4f9088"/>
<rect x="396.30" y="478.3" width="2.0" height="14.4" fill="#1f9a84"/>
<rect x="399.20" y="480.4" width="1" height="14.5" fill="#bb5364"/>
<rect x="398.70" y="482.1" width="2.0" height="11.0" fill="#dc5262"/>
<rect x="401.61" y="485.5" width="1" height="8.0" fill="#4f9088"/>
<rect x="401.11" y="486.5" width="2.0" height="6.1" fill="#1f9a84"/>
<rect x="404.02" y="481.1" width="1" height="18.2" fill="#bb5364"/>
<rect x="403.52" y="483.3" width="2.0" height="13.8" fill="#dc5262"/>
<rect x="406.43" y="497.1" width="1" height="10.9" fill="#bb5364"/>
<rect x="405.93" y="498.4" width="2.0" height="8.3" fill="#dc5262"/>
<rect x="408.84" y="495.7" width="1" height="12.3" fill="#4f9088"/>
<rect x="408.34" y="497.2" width="2.0" height="9.3" fill="#1f9a84"/>
<rect x="411.24" y="497.1" width="1" height="22.6" fill="#bb5364"/>
<rect x="410.74" y="499.8" width="2.0" height="17.2" fill="#dc5262"/>
<rect x="413.65" y="513.8" width="1" height="13.1" fill="#bb5364"/>
<rect x="413.15" y="515.4" width="2.0" height="10.0" fill="#dc5262"/>
<rect x="416.06" y="515.3" width="1" height="11.6" fill="#4f9088"/>
<rect x="415.56" y="516.7" width="2.0" height="8.8" fill="#1f9a84"/>
<rect x="418.47" y="516.8" width="1" height="14.5" fill="#4f9088"/>
<rect x="417.97" y="518.5" width="2.0" height="11.0" fill="#1f9a84"/>
<rect x="420.88" y="497.8" width="1" height="23.3" fill="#4f9088"/>
<rect x="420.38" y="500.6" width="2.0" height="17.7" fill="#1f9a84"/>
<rect x="423.28" y="499.3" width="1" height="18.9" fill="#bb5364"/>
<rect x="422.78" y="501.6" width="2.0" height="14.4" fill="#dc5262"/>
<rect x="425.69" y="489.8" width="1" height="38.6" fill="#bb5364"/>
<rect x="425.19" y="494.4" width="2.0" height="29.3" fill="#dc5262"/>
<rect x="428.10" y="510.9" width="1" height="16.8" fill="#4f9088"/>
<rect x="427.60" y="512.9" width="2.0" height="12.8" fill="#1f9a84"/>
<rect x="430.51" y="510.7" width="1" height="13.0" fill="#bb5364"/>
<rect x="430.01" y="512.3" width="2.0" height="9.9" fill="#dc5262"/>
<rect x="432.92" y="515.9" width="1" height="4.6" fill="#4f9088"/>
<rect x="432.42" y="516.5" width="2.0" height="3.5" fill="#1f9a84"/>
<rect x="435.32" y="517.4" width="1" height="9.1" fill="#bb5364"/>
<rect x="434.82" y="518.5" width="2.0" height="6.9" fill="#dc5262"/>
<rect x="437.73" y="520.5" width="1" height="9.1" fill="#bb5364"/>
<rect x="437.23" y="521.6" width="2.0" height="6.9" fill="#dc5262"/>
<rect x="440.14" y="524.3" width="1" height="8.3" fill="#bb5364"/>
<rect x="439.64" y="525.3" width="2.0" height="6.3" fill="#dc5262"/>
<rect x="442.55" y="526.5" width="1" height="13.0" fill="#bb5364"/>
<rect x="442.05" y="528.1" width="2.0" height="9.9" fill="#dc5262"/>
<rect x="444.96" y="529.6" width="1" height="7.6" fill="#4f9088"/>
<rect x="444.46" y="530.5" width="2.0" height="5.8" fill="#1f9a84"/>
<rect x="447.36" y="521.2" width="1" height="9.9" fill="#4f9088"/>
<rect x="446.86" y="522.4" width="2.0" height="7.5" fill="#1f9a84"/>
<rect x="449.77" y="520.5" width="1" height="4.5" fill="#4f9088"/>
<rect x="449.27" y="521.0" width="2.0" height="3.4" fill="#1f9a84"/>
<rect x="452.18" y="516.7" width="1" height="6.1" fill="#4f9088"/>
<rect x="451.68" y="517.4" width="2.0" height="4.6" fill="#1f9a84"/>
<rect x="454.59" y="512.1" width="1" height="8.4" fill="#4f9088"/>
<rect x="454.09" y="513.1" width="2.0" height="6.4" fill="#1f9a84"/>
<rect x="457.00" y="511.4" width="1" height="18.9" fill="#bb5364"/>
<rect x="456.50" y="513.7" width="2.0" height="14.4" fill="#dc5262"/>
<rect x="459.40" y="499.2" width="1" height="25.8" fill="#4f9088"/>
<rect x="458.90" y="502.3" width="2.0" height="19.6" fill="#1f9a84"/>
<rect x="461.81" y="494.7" width="1" height="15.1" fill="#4f9088"/>
<rect x="461.31" y="496.5" width="2.0" height="11.5" fill="#1f9a84"/>
<rect x="464.22" y="494.7" width="1" height="7.6" fill="#4f9088"/>
<rect x="463.72" y="495.6" width="2.0" height="5.8" fill="#1f9a84"/>
<rect x="466.63" y="462.8" width="1" height="41.0" fill="#4f9088"/>
<rect x="466.13" y="467.7" width="2.0" height="31.2" fill="#1f9a84"/>
<rect x="469.04" y="458.2" width="1" height="16.7" fill="#4f9088"/>
<rect x="468.54" y="460.2" width="2.0" height="12.7" fill="#1f9a84"/>
<rect x="471.44" y="456.7" width="1" height="13.7" fill="#4f9088"/>
<rect x="470.94" y="458.3" width="2.0" height="10.4" fill="#1f9a84"/>
<rect x="473.85" y="461.3" width="1" height="12.1" fill="#bb5364"/>
<rect x="473.35" y="462.8" width="2.0" height="9.2" fill="#dc5262"/>
<rect x="476.26" y="468.8" width="1" height="16.8" fill="#4f9088"/>
<rect x="475.76" y="470.8" width="2.0" height="12.8" fill="#1f9a84"/>
<rect x="478.67" y="444.6" width="1" height="24.2" fill="#4f9088"/>
<rect x="478.17" y="447.5" width="2.0" height="18.4" fill="#1f9a84"/>
<rect x="481.08" y="446.1" width="1" height="9.1" fill="#bb5364"/>
<rect x="480.58" y="447.2" width="2.0" height="6.9" fill="#dc5262"/>
<rect x="483.48" y="454.4" width="1" height="26.6" fill="#bb5364"/>
<rect x="482.98" y="457.6" width="2.0" height="20.2" fill="#dc5262"/>
<rect x="485.89" y="458.2" width="1" height="17.5" fill="#4f9088"/>
<rect x="485.39" y="460.3" width="2.0" height="13.3" fill="#1f9a84"/>
<rect x="488.30" y="453.7" width="1" height="16.7" fill="#4f9088"/>
<rect x="487.80" y="455.7" width="2.0" height="12.7" fill="#1f9a84"/>
<rect x="490.71" y="444.8" width="1" height="17.2" fill="#4f9088"/>
<rect x="490.21" y="446.9" width="2.0" height="13.1" fill="#1f9a84"/>
<rect x="493.12" y="429.6" width="1" height="23.3" fill="#4f9088"/>
<rect x="492.62" y="432.4" width="2.0" height="17.7" fill="#1f9a84"/>
<rect x="495.52" y="432.1" width="1" height="15.7" fill="#bb5364"/>
<rect x="495.02" y="434.0" width="2.0" height="11.9" fill="#dc5262"/>
<rect x="497.93" y="414.9" width="1" height="28.9" fill="#4f9088"/>
<rect x="497.43" y="418.4" width="2.0" height="22.0" fill="#1f9a84"/>
<rect x="500.34" y="424.0" width="1" height="15.7" fill="#bb5364"/>
<rect x="499.84" y="425.9" width="2.0" height="11.9" fill="#dc5262"/>
<rect x="502.75" y="421.0" width="1" height="16.7" fill="#4f9088"/>
<rect x="502.25" y="423.0" width="2.0" height="12.7" fill="#1f9a84"/>
<rect x="505.16" y="416.4" width="1" height="11.2" fill="#4f9088"/>
<rect x="504.66" y="417.7" width="2.0" height="8.5" fill="#1f9a84"/>
<rect x="507.56" y="423.0" width="1" height="12.2" fill="#c98590"/>
<rect x="507.06" y="424.5" width="2.0" height="9.3" fill="#e58f9b"/>
<rect x="509.97" y="415.9" width="1" height="15.7" fill="#4f9088"/>
<rect x="509.47" y="417.8" width="2.0" height="11.9" fill="#1f9a84"/>
<rect x="512.38" y="402.8" width="1" height="26.8" fill="#4f9088"/>
<rect x="511.88" y="406.0" width="2.0" height="20.4" fill="#1f9a84"/>
<rect x="514.79" y="401.8" width="1" height="16.2" fill="#bb5364"/>
<rect x="514.29" y="403.7" width="2.0" height="12.3" fill="#dc5262"/>
<rect x="517.20" y="401.8" width="1" height="15.6" fill="#4f9088"/>
<rect x="516.70" y="403.7" width="2.0" height="11.9" fill="#1f9a84"/>
<rect x="519.60" y="369.5" width="1" height="33.8" fill="#4f9088"/>
<rect x="519.10" y="373.6" width="2.0" height="25.7" fill="#1f9a84"/>
<rect x="522.01" y="350.6" width="1" height="25.2" fill="#4f9088"/>
<rect x="521.51" y="353.6" width="2.0" height="19.2" fill="#1f9a84"/>
<rect x="524.42" y="352.5" width="1" height="12.0" fill="#4f9088"/>
<rect x="523.92" y="353.9" width="2.0" height="9.1" fill="#1f9a84"/>
<rect x="526.83" y="341.7" width="1" height="19.0" fill="#4f9088"/>
<rect x="526.33" y="344.0" width="2.0" height="14.4" fill="#1f9a84"/>
<rect x="529.24" y="342.4" width="1" height="15.8" fill="#4f9088"/>
<rect x="528.74" y="344.3" width="2.0" height="12.0" fill="#1f9a84"/>
<rect x="531.64" y="331.0" width="1" height="24.6" fill="#4f9088"/>
<rect x="531.14" y="334.0" width="2.0" height="18.7" fill="#1f9a84"/>
<rect x="534.05" y="329.1" width="1" height="15.2" fill="#4f9088"/>
<rect x="533.55" y="330.9" width="2.0" height="11.6" fill="#1f9a84"/>
<rect x="536.46" y="332.3" width="1" height="9.4" fill="#bb5364"/>
<rect x="535.96" y="333.4" width="2.0" height="7.1" fill="#dc5262"/>
<rect x="538.87" y="332.3" width="1" height="10.7" fill="#bb5364"/>
<rect x="538.37" y="333.6" width="2.0" height="8.1" fill="#dc5262"/>
<rect x="541.28" y="334.2" width="1" height="25.2" fill="#bb5364"/>
<rect x="540.78" y="337.2" width="2.0" height="19.2" fill="#dc5262"/>
<rect x="543.68" y="351.8" width="1" height="19.0" fill="#bb5364"/>
<rect x="543.18" y="354.1" width="2.0" height="14.4" fill="#dc5262"/>
<rect x="546.09" y="334.2" width="1" height="20.2" fill="#4f9088"/>
<rect x="545.59" y="336.6" width="2.0" height="15.4" fill="#1f9a84"/>
<rect x="548.50" y="303.2" width="1" height="34.8" fill="#4f9088"/>
<rect x="548.00" y="307.4" width="2.0" height="26.4" fill="#1f9a84"/>
<rect x="550.91" y="310.2" width="1" height="11.3" fill="#bb5364"/>
<rect x="550.41" y="311.6" width="2.0" height="8.6" fill="#dc5262"/>
<rect x="553.32" y="310.8" width="1" height="15.8" fill="#bb5364"/>
<rect x="552.82" y="312.7" width="2.0" height="12.0" fill="#dc5262"/>
<rect x="555.72" y="316.5" width="1" height="24.0" fill="#bb5364"/>
<rect x="555.22" y="319.4" width="2.0" height="18.2" fill="#dc5262"/>
<rect x="558.13" y="309.5" width="1" height="28.5" fill="#bb5364"/>
<rect x="557.63" y="312.9" width="2.0" height="21.7" fill="#dc5262"/>
<rect x="560.54" y="327.8" width="1" height="24.0" fill="#bb5364"/>
<rect x="560.04" y="330.7" width="2.0" height="18.2" fill="#dc5262"/>
<rect x="562.95" y="332.9" width="1" height="17.7" fill="#4f9088"/>
<rect x="562.45" y="335.0" width="2.0" height="13.5" fill="#1f9a84"/>
<rect x="565.36" y="329.1" width="1" height="36.6" fill="#c98590"/>
<rect x="564.86" y="333.5" width="2.0" height="27.8" fill="#e58f9b"/>
<rect x="567.76" y="359.4" width="1" height="27.8" fill="#bb5364"/>
<rect x="567.26" y="362.7" width="2.0" height="21.1" fill="#dc5262"/>
<rect x="570.17" y="358.1" width="1" height="29.1" fill="#bb5364"/>
<rect x="569.67" y="361.6" width="2.0" height="22.1" fill="#dc5262"/>
<rect x="572.58" y="374.5" width="1" height="20.2" fill="#4f9088"/>
<rect x="572.08" y="376.9" width="2.0" height="15.4" fill="#1f9a84"/>
<rect x="574.99" y="371.4" width="1" height="12.0" fill="#4f9088"/>
<rect x="574.49" y="372.8" width="2.0" height="9.1" fill="#1f9a84"/>
<rect x="577.40" y="369.5" width="1" height="13.9" fill="#4f9088"/>
<rect x="576.90" y="371.2" width="2.0" height="10.6" fill="#1f9a84"/>
<rect x="579.80" y="363.8" width="1" height="18.3" fill="#4f9088"/>
<rect x="579.30" y="366.0" width="2.0" height="13.9" fill="#1f9a84"/>
<rect x="582.21" y="366.9" width="1" height="7.6" fill="#bb5364"/>
<rect x="581.71" y="367.8" width="2.0" height="5.8" fill="#dc5262"/>
<rect x="584.62" y="358.1" width="1" height="32.2" fill="#4f9088"/>
<rect x="584.12" y="362.0" width="2.0" height="24.5" fill="#1f9a84"/>
<rect x="587.03" y="344.2" width="1" height="21.5" fill="#4f9088"/>
<rect x="586.53" y="346.8" width="2.0" height="16.3" fill="#1f9a84"/>
<rect x="589.44" y="354.3" width="1" height="10.1" fill="#bb5364"/>
<rect x="588.94" y="355.5" width="2.0" height="7.7" fill="#dc5262"/>
<rect x="591.84" y="359.4" width="1" height="18.3" fill="#bb5364"/>
<rect x="591.34" y="361.6" width="2.0" height="13.9" fill="#dc5262"/>
<rect x="594.25" y="358.7" width="1" height="22.1" fill="#4f9088"/>
<rect x="593.75" y="361.4" width="2.0" height="16.8" fill="#1f9a84"/>
<rect x="596.66" y="359.4" width="1" height="18.9" fill="#bb5364"/>
<rect x="596.16" y="361.7" width="2.0" height="14.4" fill="#dc5262"/>
<rect x="599.07" y="366.9" width="1" height="12.7" fill="#bb5364"/>
<rect x="598.57" y="368.4" width="2.0" height="9.7" fill="#dc5262"/>
<rect x="601.48" y="353.7" width="1" height="32.2" fill="#4f9088"/>
<rect x="600.98" y="357.6" width="2.0" height="24.5" fill="#1f9a84"/>
<rect x="603.88" y="318.3" width="1" height="49.3" fill="#4f9088"/>
<rect x="603.38" y="324.2" width="2.0" height="37.5" fill="#1f9a84"/>
<rect x="606.29" y="312.6" width="1" height="14.6" fill="#4f9088"/>
<rect x="605.79" y="314.4" width="2.0" height="11.1" fill="#1f9a84"/>
<rect x="608.70" y="317.7" width="1" height="19.6" fill="#bb5364"/>
<rect x="608.20" y="320.1" width="2.0" height="14.9" fill="#dc5262"/>
</g>
<line x1="67" y1="402" x2="965" y2="402" stroke="#b3356a" stroke-width="2"/>
<line x1="124" y1="328.5" x2="965" y2="328.5" stroke="#5a9a5e" stroke-opacity="0.85" stroke-width="1" stroke-dasharray="1.2 1.85"/>
<polyline points="607.8,316.5 608.8,318.7 610.8,321.7 612.7,330.5 614.7,339.3 616.7,341.3 618.6,351.1 620.6,342.3 622.5,334.4 624.5,330.5 625.5,328.5 627.5,303.0 629.4,289.3 631.0,287.4 632.4,290.3 635.3,294.2 638.2,299.1 641.2,306.0 644.1,305.0 646.5,303.0 648.0,306.0 650.0,315.8 651.6,321.7 653.9,319.7 656.9,324.6 658.8,332.5 661.2,341.3 663.1,340.3 665.7,326.6 667.6,310.9 669.6,297.2 671.6,291.3 672.9,289.3 674.3,269.9 675.6,260.2 676.9,247.8 678.3,242.5 679.6,243.4 680.9,249.6 681.8,250.4 682.7,244.2 684.0,233.6 686.2,223.0 688.0,226.5 690.7,230.1 692.9,234.1 694.2,238.9 695.5,242.5 698.2,242.5 699.5,245.1 701.3,250.4 702.6,251.3 704.4,249.6 706.6,248.2 709.2,249.1 710.6,248.7 711.9,243.4 713.7,235.4 715.4,225.7 717.7,213.3" fill="none" stroke="#d6246a" stroke-width="2.4" stroke-linejoin="round" stroke-linecap="round"/>
<line x1="881.2" y1="65" x2="963.5" y2="222.4" stroke="#4caf50" stroke-width="2" stroke-linecap="round"/>
<rect x="67" y="597" width="898" height="97.5" fill="#7e57c2" fill-opacity="0.1"/>
<line x1="67" y1="597.5" x2="965" y2="597.5" stroke="#6f7280" stroke-width="1" stroke-dasharray="4.9 5.85"/>
<line x1="67" y1="645.5" x2="965" y2="645.5" stroke="#b4b2c4" stroke-width="1" stroke-dasharray="4.9 5.85"/>
<line x1="67" y1="694.5" x2="965" y2="694.5" stroke="#6f7280" stroke-width="1" stroke-dasharray="4.9 5.85"/>
<clipPath id="rsiclip"><rect x="67" y="573" width="898" height="132"/></clipPath>
<g clip-path="url(#rsiclip)" fill="none" stroke-linejoin="round">
<defs><linearGradient id="obg" x1="0" y1="0" x2="0" y2="1"><stop offset="0" stop-color="#9ed4a0" stop-opacity="0.75"/><stop offset="1" stop-color="#c8e6c9" stop-opacity="0.15"/></linearGradient></defs>
<path d="M518.6,597.5 L519.4,582 L520.8,578.3 L524.3,573.6 L537.2,573.6 L539.6,578.5 L540.7,585.6 L543,597.5 Z" fill="url(#obg)" stroke="none"/>
<polyline points="67.2,624.8 73.5,633.5 79.8,637.4 86.1,632.7 95.6,624.0 101.9,614.5 106.7,605.0 111.4,602.7 117.7,606.6 124.0,616.1 130.4,628.7 136.7,641.4 143.0,648.5 152.5,648.0 158.8,649.3 166.7,652.4 174.6,656.4 180.9,662.7 187.2,669.8 192.0,670.6 198.3,663.5 200.0,661.9 207.9,654.0 215.8,649.3 223.7,642.9 231.6,635.8 239.5,630.3 247.4,617.7 253.7,609.8 258.5,605.8 263.2,609.8 271.1,622.4 279.0,639.8 285.3,646.1 293.2,649.3 298.0,646.9 304.3,638.2 310.6,627.1 318.5,617.7 326.4,620.0 334.3,627.1 336.0,627.9 343.9,638.2 351.8,646.1 359.7,650.8 367.6,653.2 375.5,654.0 383.4,654.0 391.3,646.9 399.2,636.6 408.7,630.3 416.6,633.5 424.5,639.8 434.0,647.7 443.4,654.8 451.3,653.2 457.7,654.0 464.0,649.3 470.3,638.2 472.0,639.0 478.6,625.9 485.1,617.7 491.7,611.1 498.3,607.8 504.9,608.6 511.4,609.4 516.4,608.6 521.3,602.9 527.9,596.3 534.4,588.1 541.0,582.3 547.6,580.2 554.2,579.9 560.7,586.4 567.3,599.6 573.9,614.4 580.4,625.9 587.0,637.4 593.6,644.8 600.2,648.9 605.1,643.9 610.0,638.2" stroke="#efd97e" stroke-width="2" opacity="0.85"/>
<polyline points="67.2,652.4 70.3,658.7 72.7,655.6 75.1,654.8 76.6,657.2 79.0,638.2 81.4,605.0 83.8,602.7 85.3,595.5 86.9,587.6 89.3,590.0 91.7,588.4 94.0,600.3 95.6,592.4 98.0,594.0 100.3,588.4 102.7,586.1 104.3,594.0 105.9,604.2 108.2,630.3 110.6,638.2 113.0,641.4 114.6,640.6 118.5,629.5 120.9,644.5 124.8,666.6 128.8,657.2 133.5,649.3 135.1,658.7 137.5,649.3 139.8,647.7 143.0,641.4 145.4,638.2 147.7,638.2 150.1,631.9 152.2,627.1 154.1,642.9 157.2,644.5 158.8,669.8 162.0,676.9 165.1,669.8 168.3,665.9 171.4,666.6 173.8,680.1 177.8,660.3 181.7,673.0 185.7,680.9 188.0,660.3 191.2,660.3 195.1,649.3 197.5,631.1 202.3,628.7 202.4,628.7 204.7,635.0 207.1,649.3 211.9,664.3 215.0,662.7 219.0,646.1 221.3,663.5 224.5,614.5 226.9,604.2 229.2,601.9 231.6,611.3 234.0,598.7 236.3,609.8 240.3,606.6 243.5,605.8 245.8,596.3 248.2,605.8 250.6,613.7 252.9,612.1 255.3,614.5 257.7,612.9 260.0,604.2 261.6,622.4 264.0,646.1 267.2,650.8 270.3,666.6 273.5,675.3 275.8,671.4 277.7,668.2 279.0,669.8 282.2,660.3 284.5,638.2 286.9,642.9 289.3,625.6 292.4,624.0 296.4,610.6 301.1,631.1 307.4,608.2 313.0,620.8 317.7,605.8 320.9,633.5 327.2,650.8 331.9,643.7 335.1,644.5 339.0,657.2 340.0,657.2 343.1,655.6 347.1,641.4 350.2,647.7 355.0,643.7 356.5,644.5 361.3,668.2 364.4,648.5 366.0,658.7 369.2,663.5 371.1,657.2 373.6,665.9 376.3,646.9 379.5,646.1 383.4,653.2 385.8,633.5 388.9,619.2 392.1,620.8 394.5,617.7 397.6,615.3 400.0,620.0 402.4,619.2 405.5,635.0 407.9,639.8 409.5,639.0 414.2,662.7 417.4,661.9 422.1,633.5 426.9,654.0 429.2,646.9 430.8,654.0 433.2,651.6 437.1,657.2 441.1,664.3 443.4,670.6 445.8,669.0 448.2,650.8 450.6,650.1 455.3,638.2 457.7,650.8 461.6,627.1 464.8,625.6 467.1,600.3 471.9,595.5 475.0,609.0 476.9,607.8 479.9,594.6 481.9,607.8 484.3,629.2 486.8,617.7 490.1,611.1 494.2,601.2 496.6,610.3 499.1,603.7 501.2,612.7 504.0,605.3 506.5,606.1 509.0,609.4 513.1,599.6 515.5,600.4 518.0,594.6 520.5,579.9 524.6,574.1 528.7,572.5 537.7,573.3 539.4,578.2 542.7,597.9 544.3,600.4 546.8,593.8 549.2,580.7 552.5,584.8 555.0,589.7 558.3,602.9 561.5,625.9 563.2,617.7 566.5,639.0 571.4,660.4 573.1,659.5 577.2,652.2 581.3,646.4 582.9,648.0 586.2,636.5 588.7,639.0 592.4,656.3 595.2,637.4 597.7,654.6 600.2,655.4 603.4,625.9 606.7,608.6 610.0,618.5" stroke="#7c5cc2" stroke-width="1.25"/>
</g>
</svg>
<div class="ax pr" style="top:63.6px">300.00</div>
<div class="ax pr" style="top:110.3px">290.00</div>
<div class="ax pr" style="top:157.0px">280.00</div>
<div class="ax pr" style="top:203.7px">270.00</div>
<div class="ax pr" style="top:250.4px">260.00</div>
<div class="ax pr" style="top:297.1px">250.00</div>
<div class="ax pr" style="top:437.2px">220.00</div>
<div class="ax pr" style="top:530.6px">200.00</div>
<div class="pl" style="top:219.2px;background:#f70d0d;color:#ffe8e8">266.26</div>
<div class="pl" style="top:280.4px;background:#808080;color:#f4f4f4">253.14</div>
<div class="pl" style="top:350.5px;background:#808080;color:#f4f4f4">238.46</div>
<div class="pl" style="top:379.5px;background:#808080;color:#f4f4f4">231.90</div>
<div class="pl" style="top:395.8px;background:#e91e63;color:#ffe6ee">228.80</div>
<div class="pl" style="top:417.3px;background:#808080;color:#f4f4f4">223.78</div>
<div class="pl" style="top:478.4px;background:#f00df5;color:#ffe8ff">210.67</div>
<div class="pl" style="top:540.2px;background:#808080;color:#f4f4f4">197.55</div>
<div class="pl" style="top:303.5px;background:#fc7a0e;color:#fff2e0">245.02</div>
<div class="pl" style="top:319.6px;height:30.4px;background:#00e810;color:#063b06;line-height:13.3px;padding-top:1.85px">244.61<br>35:40</div>
<div class="t" style="left:67.5px;top:320px;width:55px;height:15.7px;background:#00e810;color:#063b06;font-size:11.6px;line-height:16px;text-align:center;border-radius:2px">SOLUSD</div>
<div class="t" style="left:14px;top:30px;width:49px;height:24px;border:1px solid #eef0f3;border-radius:4px;box-sizing:border-box;"></div>
<div class="t" style="left:22.5px;top:37px;font-size:11.3px;color:#2a2e39;-webkit-text-stroke:0.25px currentColor">USD</div>
<div class="t" style="left:965px;top:610.6px;width:45.3px;height:16.4px;background:#7e57c2;color:#fff;font-size:12px;letter-spacing:0.25px;line-height:16.4px;text-align:center;border-radius:2px">61.15</div>
<div class="t" style="left:965px;top:630.8px;width:45.3px;height:16px;background:#f7d42c;color:#2a2e39;font-size:12px;letter-spacing:0.25px;line-height:16px;text-align:center;border-radius:2px">53.07</div>
<div class="ax" style="left:973.2px;top:664.6px;letter-spacing:0.25px">40.00</div>
<div class="ax" style="left:56.8px;width:60px;text-align:center;top:715px;-webkit-text-stroke:0.05px currentColor;">13</div>
<div class="ax" style="left:114.6px;width:60px;text-align:center;top:715px;-webkit-text-stroke:0.05px currentColor;">17</div>
<div class="ax" style="left:172.4px;width:60px;text-align:center;top:715px;-webkit-text-stroke:0.05px currentColor;">21</div>
<div class="ax" style="left:230.2px;width:60px;text-align:center;top:715px;-webkit-text-stroke:0.05px currentColor;">25</div>
<div class="ax" style="left:331.3px;width:60px;text-align:center;top:715px;-webkit-text-stroke:0.05px currentColor;font-weight:bold;">Sep</div>
<div class="ax" style="left:389.1px;width:60px;text-align:center;top:715px;-webkit-text-stroke:0.05px currentColor;">5</div>
<div class="ax" style="left:446.9px;width:60px;text-align:center;top:715px;-webkit-text-stroke:0.05px currentColor;">9</div>
<div class="ax" style="left:504.70000000000005px;width:60px;text-align:center;top:715px;-webkit-text-stroke:0.05px currentColor;">13</div>
<div class="ax" style="left:562.5px;width:60px;text-align:center;top:715px;-webkit-text-stroke:0.05px currentColor;">17</div>
<div class="ax" style="left:620.3px;width:60px;text-align:center;top:715px;-webkit-text-stroke:0.05px currentColor;">21</div>
<div class="ax" style="left:678.1px;width:60px;text-align:center;top:715px;-webkit-text-stroke:0.05px currentColor;">25</div>
<div class="ax" style="left:764.8px;width:60px;text-align:center;top:715px;-webkit-text-stroke:0.05px currentColor;font-weight:bold;">Oct</div>
<div class="ax" style="left:822.6px;width:60px;text-align:center;top:715px;-webkit-text-stroke:0.05px currentColor;">5</div>
<div class="ax" style="left:880.4px;width:60px;text-align:center;top:715px;-webkit-text-stroke:0.05px currentColor;">9</div>
<div class="t" style="left:29px;top:711px;width:19px;height:19px;border-radius:50%;background:#f1f1f3;color:#7d808a;font-size:11px;line-height:19px;text-align:center">Z</div>
<div class="t" style="left:980px;top:711px;width:19px;height:19px;border-radius:50%;background:#f1f1f3;color:#7d808a;font-size:11px;line-height:19px;text-align:center">A</div>
<div class="lg" style="left:75.6px;top:36px;font-size:11.85px">Solana / U.S. Dollar · 4h · Coinbase</div>
<div class="lg" style="left:270.7px;top:36px">O<span style="color:#dc4a62">246.79</span></div>
<div class="lg" style="left:325.4px;top:36px">H<span style="color:#dc4a62">247.08</span></div>
<div class="lg" style="left:376px;top:36px">L<span style="color:#dc4a62">242.63</span></div>
<div class="lg" style="left:428.8px;top:36px">C<span style="color:#dc4a62">244.61</span></div>
<div class="lg" style="left:480.8px;top:36px;color:#dc4a62">−2.16 (−0.88%)</div>
<div class="lg" style="left:75.6px;top:52.4px">Volume Profile Bar-Magnified Order Blocks [JacobMagleby] (7, 10, Close Engulfs 100% Of Order Block)</div>
<div class="lg" style="left:75.6px;top:68.6px">CM_EMA TrendBars (200)</div>
<div class="lg" style="left:75.6px;top:84.8px">FBB (200, hlc3, 3)</div>
<div class="lg" style="left:180.5px;top:84.8px;color:#e040fb;-webkit-text-stroke:0.1px #e040fb">210.67</div>
<div class="lg" style="left:223.4px;top:84.8px;color:#8c8c8c;-webkit-text-stroke:0.1px #8c8c8c">223.78</div>
<div class="lg" style="left:267.6px;top:84.8px;color:#8c8c8c;-webkit-text-stroke:0.1px #8c8c8c">231.90</div>
<div class="lg" style="left:310.5px;top:84.8px;color:#8c8c8c;-webkit-text-stroke:0.1px #8c8c8c">238.46</div>
<div class="lg" style="left:356.6px;top:84.8px;color:#f5a030;-webkit-text-stroke:0.1px #f5a030">245.02</div>
<div class="lg" style="left:401.5px;top:84.8px;color:#8c8c8c;-webkit-text-stroke:0.1px #8c8c8c">253.14</div>
<div class="lg" style="left:444.5px;top:84.8px;color:#e53935;-webkit-text-stroke:0.1px #e53935">266.26</div>
<div class="lg" style="left:490px;top:84.8px;color:#8c8c8c;-webkit-text-stroke:0.1px #8c8c8c">197.55</div>
<div class="lg" style="left:531.6px;top:84.8px;color:#8c8c8c;-webkit-text-stroke:0.1px #8c8c8c">189.43</div>
<div class="lg" style="left:575.3px;top:84.8px;color:#8c8c8c;-webkit-text-stroke:0.1px #8c8c8c">182.87</div>
<div class="lg" style="left:619px;top:84.8px;color:#f5a030;-webkit-text-stroke:0.1px #f5a030">176.31</div>
<div class="lg" style="left:660px;top:84.8px;color:#8c8c8c;-webkit-text-stroke:0.1px #8c8c8c">168.19</div>
<div class="lg" style="left:702.3px;top:84.8px;color:#43a047;-webkit-text-stroke:0.1px #43a047">155.07</div>
<div class="lg" style="z-index:1;left:75px;top:583px;font-size:11.75px">RSI (14, close)</div>
<div class="lg" style="left:159.8px;top:583px;font-size:11.6px;color:#7e57c2">61.15</div>
<div class="lg" style="left:194.5px;top:583px;font-size:11.6px;color:#f0d060">53.07</div>
<svg style="left:590px;top:545px" width="32" height="30" viewBox="590 545 32 30">
<path d="M601.03,558.58 A9,9 0 0 1 611.82,551.83" fill="none" stroke="#6b3c93" stroke-width="1.9" stroke-linecap="round"/>
<path d="M618.53,558.42 A9,9 0 0 1 603.38,566.91" fill="none" stroke="#7a3d9e" stroke-width="1.9" stroke-linecap="round"/>
<path d="M612.8,555 L606.2,561.6 L609.6,561.6 L607.2,566.8 L613.6,560.0 L610.2,560.0 Z" fill="#9a32c4"/>
<path d="M598.7,559.3 Q599.4,563.0 603.2,563.7 Q599.4,564.4 598.7,568.1 Q598.0,564.4 594.2,563.7 Q598.0,563.0 598.7,559.3 Z" fill="#6448ec"/>
<circle cx="616" cy="554" r="3.6" fill="#fff"/><circle cx="616" cy="554" r="2.6" fill="#e5283c"/>
</svg>
<svg style="left:11px;top:754px" width="30" height="15" viewBox="0 4 36 18"><path d="M14 22H7V11H0V4h14v18zM28 22h-8l7.5-18h8L28 22z" fill="#131722"/><circle cx="20" cy="8" r="4" fill="#131722"/></svg>
<div class="t" style="left:47px;top:751px;font-size:20px;font-weight:bold;color:#131722;letter-spacing:-0.1px">TradingView</div>
</body></html>
